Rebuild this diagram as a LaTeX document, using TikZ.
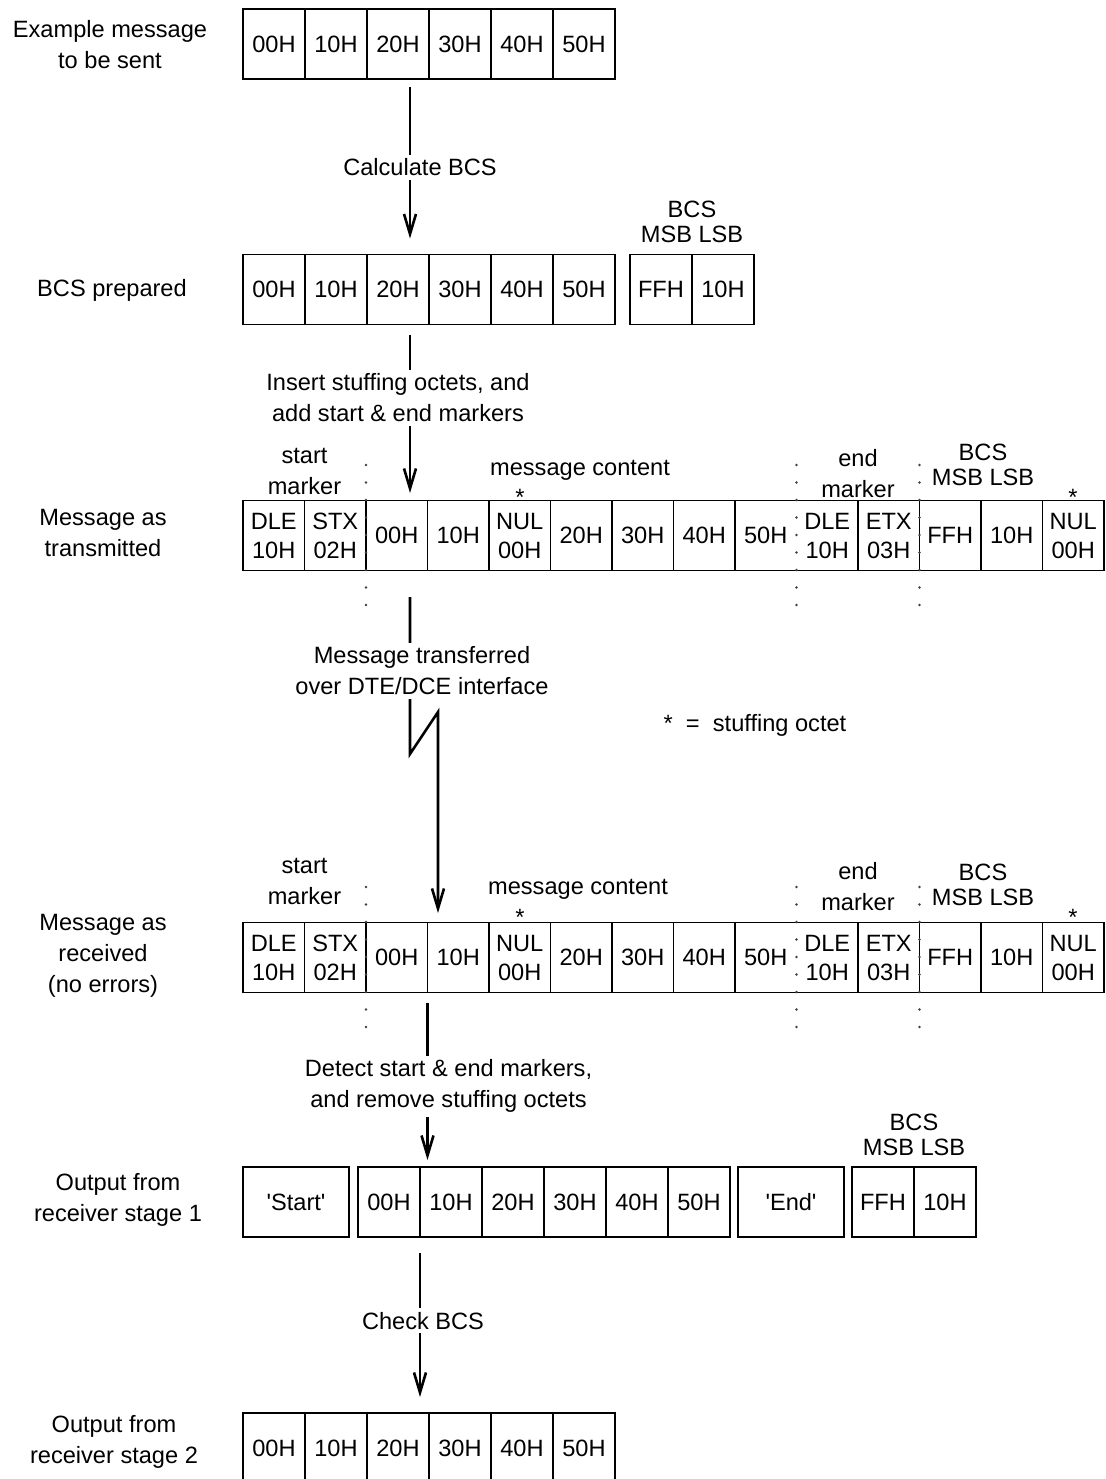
\documentclass[tikz,border=0pt]{standalone}
\usepackage{fontspec}
\setmainfont{Liberation Sans}
\usepackage{tikz}
\usetikzlibrary{arrows.meta,positioning}
\colorlet{DotGray}{black!75}

\begin{document}
\begin{tikzpicture}[
  x=0.5pt, y=-0.5pt,
  font=\fontsize{11.8}{15.5}\selectfont,
  cell/.style={rectangle, draw, line width=0.8pt, minimum width=31pt, minimum height=35pt, inner sep=0pt, outer sep=0pt, align=center, font=\fontsize{11.8}{14.5}\selectfont},
  wcell/.style={cell, draw=none, minimum width=30.75pt},
  wordcell/.style={cell, minimum width=53pt},
  lbl/.style={align=center, inner sep=1pt},
  bcslbl/.style={lbl, font=\fontsize{11.8}{12.5}\selectfont},
  cutlbl/.style={lbl, fill=white, inner sep=2pt},
  gridline/.style={line width=0.8pt},
  arrow/.style={-{Straight Barb[length=10pt,width=6pt]}, line width=1.3pt},
  dotline/.style={DotGray, line width=1.3pt, line cap=round, dash pattern=on 0pt off 8.75pt}
]
\useasboundingbox (0,0) rectangle (1106,1479);

% Example message to be sent
\node[lbl] (lbla) at (110,45) {Example message\\to be sent};
\foreach \v [count=\i] in {00H,10H,20H,30H,40H,50H}
  \node[cell] (a\i) at (212+62*\i,44) {\v};

% BCS prepared
\node[lbl] (lblb) at (112,290) {BCS prepared};
\foreach \v [count=\i] in {00H,10H,20H,30H,40H,50H}
  \node[cell] (b\i) at (212+62*\i,289.5) {\v};
\node[cell] (bmsb) at (661,289.5) {FFH};
\node[cell, right=0pt of bmsb] (blsb) {10H};
\node[bcslbl, above=4.5pt of bmsb.north east] (bbcs) {BCS\\MSB LSB};

% Message as transmitted / as received
\node[lbl] (lblt) at (103,533) {Message as\\transmitted};
\node[lbl] (lblr) at (103,956) {Message as\\received\\(no errors)};
\foreach \rw/\yc in {t/535.5,r/957.5} {
  \foreach \v [count=\i] in {{DLE\\10H},{STX\\02H},00H,10H,{NUL\\00H},20H,30H,40H,50H,{DLE\\10H},{ETX\\03H},FFH,10H,{NUL\\00H}}
    \node[wcell] (\rw\i) at (212.25+61.5*\i,\yc) {\v};
  \draw[gridline] (\rw1.north west) rectangle (\rw14.south east);
  \foreach \i in {1,...,8,10,11,12,13}
    \draw[gridline] (\rw\i.north east) -- (\rw\i.south east);
  \foreach \i in {2,9,11}
    \draw[dotline] ([yshift=17.75pt]\rw\i.north east) -- ([yshift=-17.5pt]\rw\i.south east);
}

% labels over transmitted row
\node[lbl] (tstart) at (304.5,471) {start\\marker};
\node[lbl] (tmsg) at (580,470) {message content};
\node[lbl] (tstar1) at (520,497) {*};
\node[lbl] (tend) at (858,473.5) {end\\marker};
\node[bcslbl] (tbcs) at (983,465) {BCS\\MSB LSB};
\node[lbl] (tstar2) at (1073,497) {*};

% labels over received row
\node[lbl] (rstart) at (304.5,881.5) {start\\marker};
\node[lbl] (rmsg) at (578,889) {message content};
\node[lbl] (rstar1) at (520,917) {*};
\node[lbl] (rend) at (858,887) {end\\marker};
\node[bcslbl] (rbcs) at (983,885) {BCS\\MSB LSB};
\node[lbl] (rstar2) at (1073,917) {*};

\node[lbl] (key) at (755,725) {*\ \ =\ \ stuffing octet};

% Output from receiver stage 1
\node[lbl] (lbls) at (118,1200) {Output from\\receiver stage 1};
\node[wordcell] (sstart) at (296,1202) {\textquotesingle Start\textquotesingle};
\node[cell, right=4.5pt of sstart] (s1) {00H};
\node[cell, right=0pt of s1] (s2) {10H};
\node[cell, right=0pt of s2] (s3) {20H};
\node[cell, right=0pt of s3] (s4) {30H};
\node[cell, right=0pt of s4] (s5) {40H};
\node[cell, right=0pt of s5] (s6) {50H};
\node[wordcell, right=4pt of s6] (send) {\textquotesingle End\textquotesingle};
\node[cell, right=4pt of send] (smsb) {FFH};
\node[cell, right=0pt of smsb] (slsb) {10H};
\node[bcslbl, above=4.5pt of smsb.north east] (sbcs) {BCS\\MSB LSB};

% Output from receiver stage 2
\node[lbl] (lblu) at (114,1442) {Output from\\receiver stage 2};
\foreach \v [count=\i] in {00H,10H,20H,30H,40H,50H}
  \node[cell] (u\i) at (212+62*\i,1448) {\v};

% Arrows
\draw[arrow] ([xshift=6pt,yshift=-4pt]a3.south) coordinate (calctop)
  -- node[cutlbl, pos=0.53, xshift=5pt] (calc) {Calculate BCS} ([yshift=8pt]calctop |- b3.north);
\draw[arrow] ([xshift=6pt,yshift=-5pt]b3.south) coordinate (instop)
  -- node[cutlbl, pos=0.4, xshift=-6pt] (ins) {Insert stuffing octets, and\\add start \& end markers} ([yshift=3.75pt]instop |- t3.north);
\coordinate (zzlo) at (410,754);
\coordinate (zzhi) at (438,712);
\draw[arrow] ([xshift=6.6pt,yshift=-13.25pt]t3.south) -- (zzlo) -- (zzhi) -- ([yshift=4.75pt]zzhi |- r4.north);
\node[cutlbl] (xfer) at (422,671) {Message transferred\\over DTE/DCE interface};
\draw[arrow] ([yshift=-5.25pt]r3.south east)
  -- node[cutlbl, pos=0.53, xshift=10.5pt] (detect) {Detect start \& end markers,\\and remove stuffing octets} ([yshift=3.5pt]r3.south east |- s2.north);
\draw[arrow] ([yshift=-8pt]s1.south east)
  -- node[cutlbl, pos=0.47, xshift=1.5pt] (chk) {Check BCS} ([yshift=8pt]s1.south east |- u3.north);

\end{tikzpicture}
\end{document}
